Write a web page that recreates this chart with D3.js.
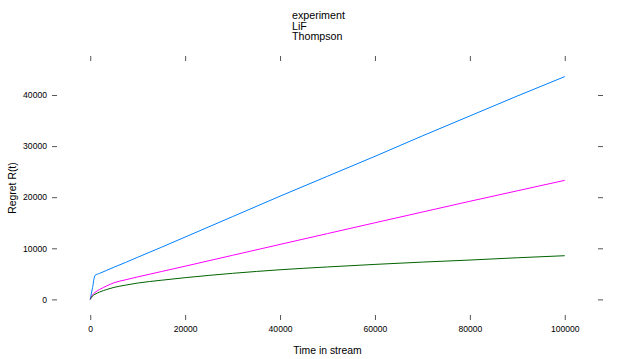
<!DOCTYPE html>
<html>
<head>
<meta charset="utf-8">
<script src="https://cdn.jsdelivr.net/npm/d3@7"></script>
<style>
	body { margin: 0; background: #fff; }
	text { font-family: "Liberation Sans", Arial, sans-serif; fill: #000; }
</style>
</head>
<body>
<svg id="chart" width="623" height="359"></svg>
<script>
// time steps and regret
var aTime = [0, 500, 1000, 2000, 3500, 5000, 7500, 10000, 15000, 20000, 30000, 40000, 50000, 60000, 70000, 80000, 90000, 100000];
var aExperiment = [0, 2350, 4700, 5100, 5700, 6300, 7250, 8250, 10200, 12200, 16200, 20200, 24100, 28000, 32000, 35900, 39800, 43600];
var aLiF = [0, 900, 1350, 1950, 2650, 3250, 3850, 4400, 5450, 6500, 8630, 10760, 12880, 15000, 17100, 19200, 21250, 23300];
var aThompson = [0, 700, 1000, 1450, 1950, 2350, 2800, 3200, 3750, 4250, 5100, 5800, 6350, 6850, 7300, 7700, 8150, 8550];
var aSeriesNames = ["experiment", "LiF", "Thompson"];
var aSeriesColors = ["#0080ff", "#ff00ff", "#006400"];
var aXTicks = [0, 20000, 40000, 60000, 80000, 100000];
var aYTicks = [0, 10000, 20000, 30000, 40000];

(function () {
	var $svg = d3.select("#chart"),
		aValues = [aExperiment, aLiF, aThompson],
		oPanel = {left: 57, right: 598, top: 61, bottom: 315},
		iTick = 5,
		fPad = 0.07;

	// lattice pads the data range by 7% on every side
	var aXExt = d3.extent(aTime),
		aYExt = d3.extent(d3.merge(aValues)),
		fXPad = (aXExt[1] - aXExt[0]) * fPad,
		fYPad = (aYExt[1] - aYExt[0]) * fPad;

	var x = d3.scaleLinear()
		.domain([aXExt[0] - fXPad, aXExt[1] + fXPad])
		.range([oPanel.left, oPanel.right]);
	var y = d3.scaleLinear()
		.domain([aYExt[0] - fYPad, aYExt[1] + fYPad])
		.range([oPanel.bottom, oPanel.top]);

	function styleAxis($g) {
		$g.select(".domain").remove();
		$g.selectAll(".tick line").attr("stroke", "#555");
		$g.selectAll(".tick text")
			.attr("fill", "#222")
			.style("font-family", "'Liberation Sans', Arial, sans-serif")
			.style("font-size", "8.6px");
	}

	$svg.append("g")
		.attr("transform", "translate(0," + oPanel.bottom + ")")
		.call(d3.axisBottom(x).tickValues(aXTicks).tickSize(iTick).tickSizeOuter(0)
			.tickPadding(6).tickFormat(d3.format("d")))
		.call(styleAxis);
	$svg.append("g")
		.attr("transform", "translate(0," + oPanel.top + ")")
		.call(d3.axisTop(x).tickValues(aXTicks).tickSize(iTick).tickSizeOuter(0).tickFormat(""))
		.call(styleAxis);
	$svg.append("g")
		.attr("transform", "translate(" + oPanel.left + ",0)")
		.call(d3.axisLeft(y).tickValues(aYTicks).tickSize(iTick).tickSizeOuter(0)
			.tickPadding(5).tickFormat(d3.format("d")))
		.call(styleAxis);
	$svg.append("g")
		.attr("transform", "translate(" + oPanel.right + ",0)")
		.call(d3.axisRight(y).tickValues(aYTicks).tickSize(iTick).tickSizeOuter(0).tickFormat(""))
		.call(styleAxis);

	var line = d3.line()
		.curve(d3.curveMonotoneX)
		.x(function (d) { return x(d[0]); })
		.y(function (d) { return y(d[1]); });

	$svg.append("g").selectAll("path")
		.data(aValues)
		.enter().append("path")
		.attr("fill", "none")
		.attr("stroke", function (d, i) { return aSeriesColors[i]; })
		.attr("stroke-width", 1)
		.attr("d", function (d) {
			return line(aTime.map(function (t, j) { return [t, d[j]]; }));
		});

	// key: text only, stacked above the panel
	$svg.append("g").selectAll("text")
		.data(aSeriesNames)
		.enter().append("text")
		.attr("x", 292)
		.attr("y", function (d, i) { return 19 + i * 10.5; })
		.style("font-size", "10.7px")
		.text(function (d) { return d; });

	$svg.append("text")
		.attr("x", (oPanel.left + oPanel.right) / 2)
		.attr("y", 354)
		.attr("text-anchor", "middle")
		.style("font-size", "10.4px")
		.text("Time in stream");

	$svg.append("text")
		.attr("transform", "translate(16," + (oPanel.top + oPanel.bottom) / 2 + ") rotate(-90)")
		.attr("text-anchor", "middle")
		.style("font-size", "10.4px")
		.text("Regret R(t)");
})();
</script>
</body>
</html>
